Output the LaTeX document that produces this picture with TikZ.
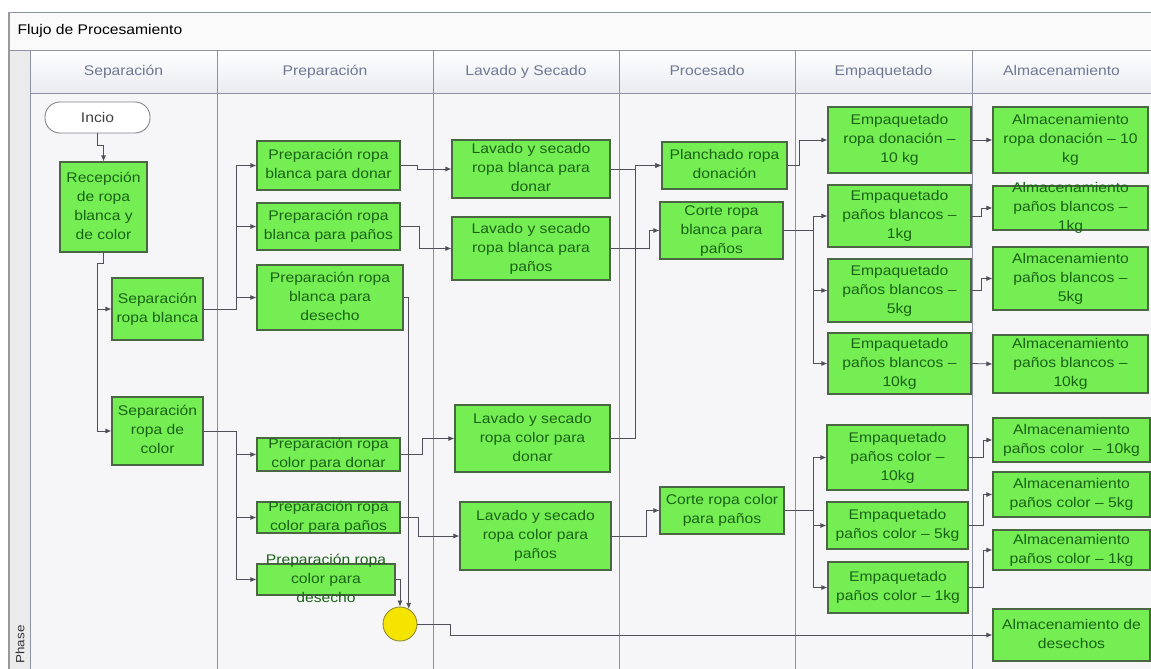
\documentclass[tikz,border=0pt]{standalone}
\usepackage{fontspec}
\setmainfont{Liberation Sans}[FakeStretch=1.12]
\usepackage{tikz}
\usetikzlibrary{arrows.meta, shapes.geometric, positioning, calc}
\definecolor{FlowGreen}{HTML}{74EE52}
\definecolor{FlowEdge}{HTML}{4A6642}
\definecolor{FlowText}{HTML}{1A6216}
\definecolor{FlowLine}{HTML}{505058}
\definecolor{LaneBack}{HTML}{F6F6F8}
\definecolor{LaneLine}{HTML}{8C92A2}
\definecolor{HeadText}{HTML}{707894}
\definecolor{HeadBottom}{HTML}{E9EBF0}
\definecolor{EndYellow}{HTML}{F4E400}
\definecolor{EndEdge}{HTML}{8E8A30}
\newcommand{\boxfont}{\fontsize{14}{19}\selectfont}
% text that may run over the edge of its box, as in the original
\newcommand{\spill}[1]{\smash{\raisebox{-3.5pt}{\begin{tabular}{@{}c@{}}#1\end{tabular}}}}
\tikzset{
    % Node styles
    stepbox/.style={
        rectangle,
        draw=FlowEdge,
        fill=FlowGreen,
        line width=1.2pt,
        inner sep=0pt,
        text=FlowText,
        font=\boxfont
    },
    startbox/.style={
        rectangle,
        rounded corners=15pt,
        draw=FlowLine!70,
        fill=white,
        line width=0.9pt,
        inner sep=0pt,
        text=black!75,
        font=\boxfont
    },
    endcircle/.style={
        circle,
        draw=EndEdge,
        fill=EndYellow,
        line width=0.9pt,
        minimum size=34pt,
        inner sep=0pt
    },
    lanehead/.style={
        text=HeadText,
        font=\boxfont,
        text height=10pt,
        text depth=3pt
    },
    % Arrow styles
    flowarrow/.style={
        -{Latex[length=6pt,width=5pt]},
        line width=0.8pt,
        FlowLine
    },
    laneline/.style={
        draw=LaneLine,
        line width=0.9pt
    }
}
\begin{document}
\begin{tikzpicture}[x=1pt,y=-1pt]
    \useasboundingbox (0,0) rectangle (1151,669);

    % Pool frame and lanes
    \fill[white] (0,0) rectangle (1151,669);
    \fill[LaneBack] (9,12) rectangle (1151,669);
    \fill[black!2] (9,12) rectangle (1151,50);
    \shade[top color=white, bottom color=HeadBottom] (30,50) rectangle (1151,93);
    \fill[black!8] (9,50) rectangle (30,669);
    \draw[laneline] (9,12) -- (1151,12);
    \draw[laneline] (9,50) -- (1151,50);
    \draw[laneline] (30,93) -- (1151,93);
    \draw[laneline, line width=1.5pt, black!40] (9,12) -- (9,669);
    \foreach \x in {30,217,433,619,795,972} {
        \draw[laneline] (\x,50) -- (\x,669);
    }
    \node[anchor=west, font=\boxfont, text height=10pt, text depth=3pt] (title) at (14,31) {Flujo de Procesamiento};
    \node[rotate=90, anchor=west, font=\fontsize{12}{14}\selectfont, text=black!80] (phase) at (20,667) {Phase};

    % Lane headers
    \node[lanehead] (hsep) at (123.5,72) {Separación};
    \node[lanehead] (hprep) at (325,72) {Preparación};
    \node[lanehead] (hlav) at (526,72) {Lavado y Secado};
    \node[lanehead] (hproc) at (707,72) {Procesado};
    \node[lanehead] (hemp) at (883.5,72) {Empaquetado};
    \node[lanehead] (halm) at (1061.5,72) {Almacenamiento};

    % Separación
    \node[startbox, minimum width=105, minimum height=31] (inicio) at (97.5,117.5) {Incio};
    \node[stepbox, minimum width=87, minimum height=90] (recep) at (103.5,207) {\spill{Recepción\\de ropa\\blanca y\\de color}};
    \node[stepbox, minimum width=91, minimum height=62] (sepbl) at (157.5,309) {\spill{Separación\\ropa blanca}};
    \node[stepbox, minimum width=91, minimum height=68] (sepco) at (157.5,431) {\spill{Separación\\ropa de\\color}};

    % Preparación
    \node[stepbox, minimum width=143, minimum height=49] (prbldon) at (328.5,165.5) {\spill{Preparación ropa\\blanca para donar}};
    \node[stepbox, minimum width=143, minimum height=47] (prblpan) at (328.5,226.5) {\spill{Preparación ropa\\blanca para paños}};
    \node[stepbox, minimum width=146, minimum height=65] (prbldes) at (330,297.5) {\spill{Preparación ropa\\blanca para\\desecho}};
    \node[stepbox, minimum width=143, minimum height=33] (prcodon) at (328.5,454.5) {\spill{Preparación ropa\\color para donar}};
    \node[stepbox, minimum width=143, minimum height=31] (prcopan) at (328.5,517.5) {\spill{Preparación ropa\\color para paños}};
    \node[stepbox, minimum width=138, minimum height=31] (prcodes) at (326,579.5) {\spill{Preparación ropa\\color para\\desecho}};
    \node[endcircle] (fin) at (400,624) {};

    % Lavado y Secado
    \node[stepbox, minimum width=158, minimum height=58] (lavbldon) at (531,169) {\spill{Lavado y secado\\ropa blanca para\\donar}};
    \node[stepbox, minimum width=158, minimum height=63] (lavblpan) at (531,248.5) {\spill{Lavado y secado\\ropa blanca para\\paños}};
    \node[stepbox, minimum width=155, minimum height=67] (lavcodon) at (532.5,438.5) {\spill{Lavado y secado\\ropa color para\\donar}};
    \node[stepbox, minimum width=151, minimum height=68] (lavcopan) at (535.5,536) {\spill{Lavado y secado\\ropa color para\\paños}};

    % Procesado
    \node[stepbox, minimum width=125, minimum height=47] (planch) at (724.5,165.5) {\spill{Planchado ropa\\donación}};
    \node[stepbox, minimum width=123, minimum height=57] (cortebl) at (721.5,230.5) {\spill{Corte ropa\\blanca para\\paños}};
    \node[stepbox, minimum width=124, minimum height=47] (corteco) at (722,510.5) {\spill{Corte ropa color\\para paños}};

    % Empaquetado
    \node[stepbox, minimum width=143, minimum height=66] (empdon) at (899.5,140) {\spill{Empaquetado\\ropa donación –\\10 kg}};
    \node[stepbox, minimum width=143, minimum height=62] (empbl1) at (899.5,216) {\spill{Empaquetado\\paños blancos –\\1kg}};
    \node[stepbox, minimum width=143, minimum height=63] (empbl5) at (899.5,290.5) {\spill{Empaquetado\\paños blancos –\\5kg}};
    \node[stepbox, minimum width=143, minimum height=61] (empbl10) at (899.5,363.5) {\spill{Empaquetado\\paños blancos –\\10kg}};
    \node[stepbox, minimum width=141, minimum height=65] (empco10) at (897.5,457.5) {\spill{Empaquetado\\paños color –\\10kg}};
    \node[stepbox, minimum width=141, minimum height=47] (empco5) at (897.5,525.5) {\spill{Empaquetado\\paños color – 5kg}};
    \node[stepbox, minimum width=140, minimum height=51] (empco1) at (898,587.5) {\spill{Empaquetado\\paños color – 1kg}};

    % Almacenamiento
    \node[stepbox, minimum width=155, minimum height=66] (almdon) at (1070.5,140) {\spill{Almacenamiento\\ropa donación – 10\\kg}};
    \node[stepbox, minimum width=155, minimum height=44] (almbl1) at (1070.5,208) {\spill{Almacenamiento\\paños blancos –\\1kg}};
    \node[stepbox, minimum width=155, minimum height=63] (almbl5) at (1070.5,278.5) {\spill{Almacenamiento\\paños blancos –\\5kg}};
    \node[stepbox, minimum width=155, minimum height=58] (almbl10) at (1070.5,364) {\spill{Almacenamiento\\paños blancos –\\10kg}};
    \node[stepbox, minimum width=157, minimum height=44] (almco10) at (1071.5,440) {\spill{Almacenamiento\\paños color~ – 10kg}};
    \node[stepbox, minimum width=157, minimum height=45] (almco5) at (1071.5,494.5) {\spill{Almacenamiento\\paños color – 5kg}};
    \node[stepbox, minimum width=157, minimum height=40] (almco1) at (1071.5,550) {\spill{Almacenamiento\\paños color – 1kg}};
    \node[stepbox, minimum width=157, minimum height=52] (almdes) at (1071.5,635) {\spill{Almacenamiento de\\desechos}};

    % Connectors: Separación
    \draw[flowarrow] (inicio.south) -- ++(0,12) -| (recep.north);
    \coordinate (jrec) at (97,263);
    \draw[flowarrow] (recep.south) |- (jrec) |- (sepbl.west);
    \draw[flowarrow] (jrec) |- (sepco.west);

    % Connectors: Preparación
    \coordinate (jbl) at (236,309);
    \coordinate (jco) at (236,431);
    \foreach \t in {prbldon,prblpan,prbldes} {
        \draw[flowarrow] (sepbl.east) -- (jbl) |- (\t.west);
    }
    \foreach \t in {prcodon,prcopan,prcodes} {
        \draw[flowarrow] (sepco.east) -- (jco) |- (\t.west);
    }
    \draw[flowarrow] (prbldes.east) -| (fin.60);
    \draw[flowarrow] (prcodes.east) -| (fin.north);
    \draw[flowarrow] (fin.east) -- ++(33,0) |- (almdes.west);

    % Connectors: Lavado y Secado
    \draw[flowarrow] (prbldon.east) -- ++(17,0) |- (lavbldon.west);
    \draw[flowarrow] (prblpan.east) -- ++(19,0) |- (lavblpan.west);
    \draw[flowarrow] (prcodon.east) -- ++(22,0) |- (lavcodon.west);
    \draw[flowarrow] (prcopan.east) -- ++(18,0) |- (lavcopan.west);

    % Connectors: Procesado
    \draw[flowarrow] (lavbldon.east) -- ++(25,0) |- (planch.west);
    \draw[flowarrow] (lavcodon.east) -- ++(25,0) |- (planch.west);
    \draw[flowarrow] (lavblpan.east) -- ++(39,0) |- (cortebl.west);
    \draw[flowarrow] (lavcopan.east) -- ++(35,0) |- (corteco.west);

    % Connectors: Empaquetado
    \draw[flowarrow] (planch.east) -- ++(12,0) |- (empdon.west);
    \coordinate (jcbl) at (813,230.5);
    \coordinate (jcco) at (813,510.5);
    \foreach \t in {empbl1,empbl5,empbl10} {
        \draw[flowarrow] (cortebl.east) -- (jcbl) |- (\t.west);
    }
    \foreach \t in {empco10,empco5,empco1} {
        \draw[flowarrow] (corteco.east) -- (jcco) |- (\t.west);
    }

    % Connectors: Almacenamiento
    \draw[flowarrow] (empdon.east) -- (almdon.west);
    \draw[flowarrow] (empbl1.east) -- ++(10,0) |- (almbl1.west);
    \draw[flowarrow] (empbl5.east) -- ++(10,0) |- (almbl5.west);
    \draw[flowarrow] (empbl10.east) -- (almbl10.west);
    \draw[flowarrow] (empco10.east) -- ++(15,0) |- (almco10.west);
    \draw[flowarrow] (empco5.east) -- ++(15,0) |- (almco5.west);
    \draw[flowarrow] (empco1.east) -- ++(15,0) |- (almco1.west);
\end{tikzpicture}
\end{document}
